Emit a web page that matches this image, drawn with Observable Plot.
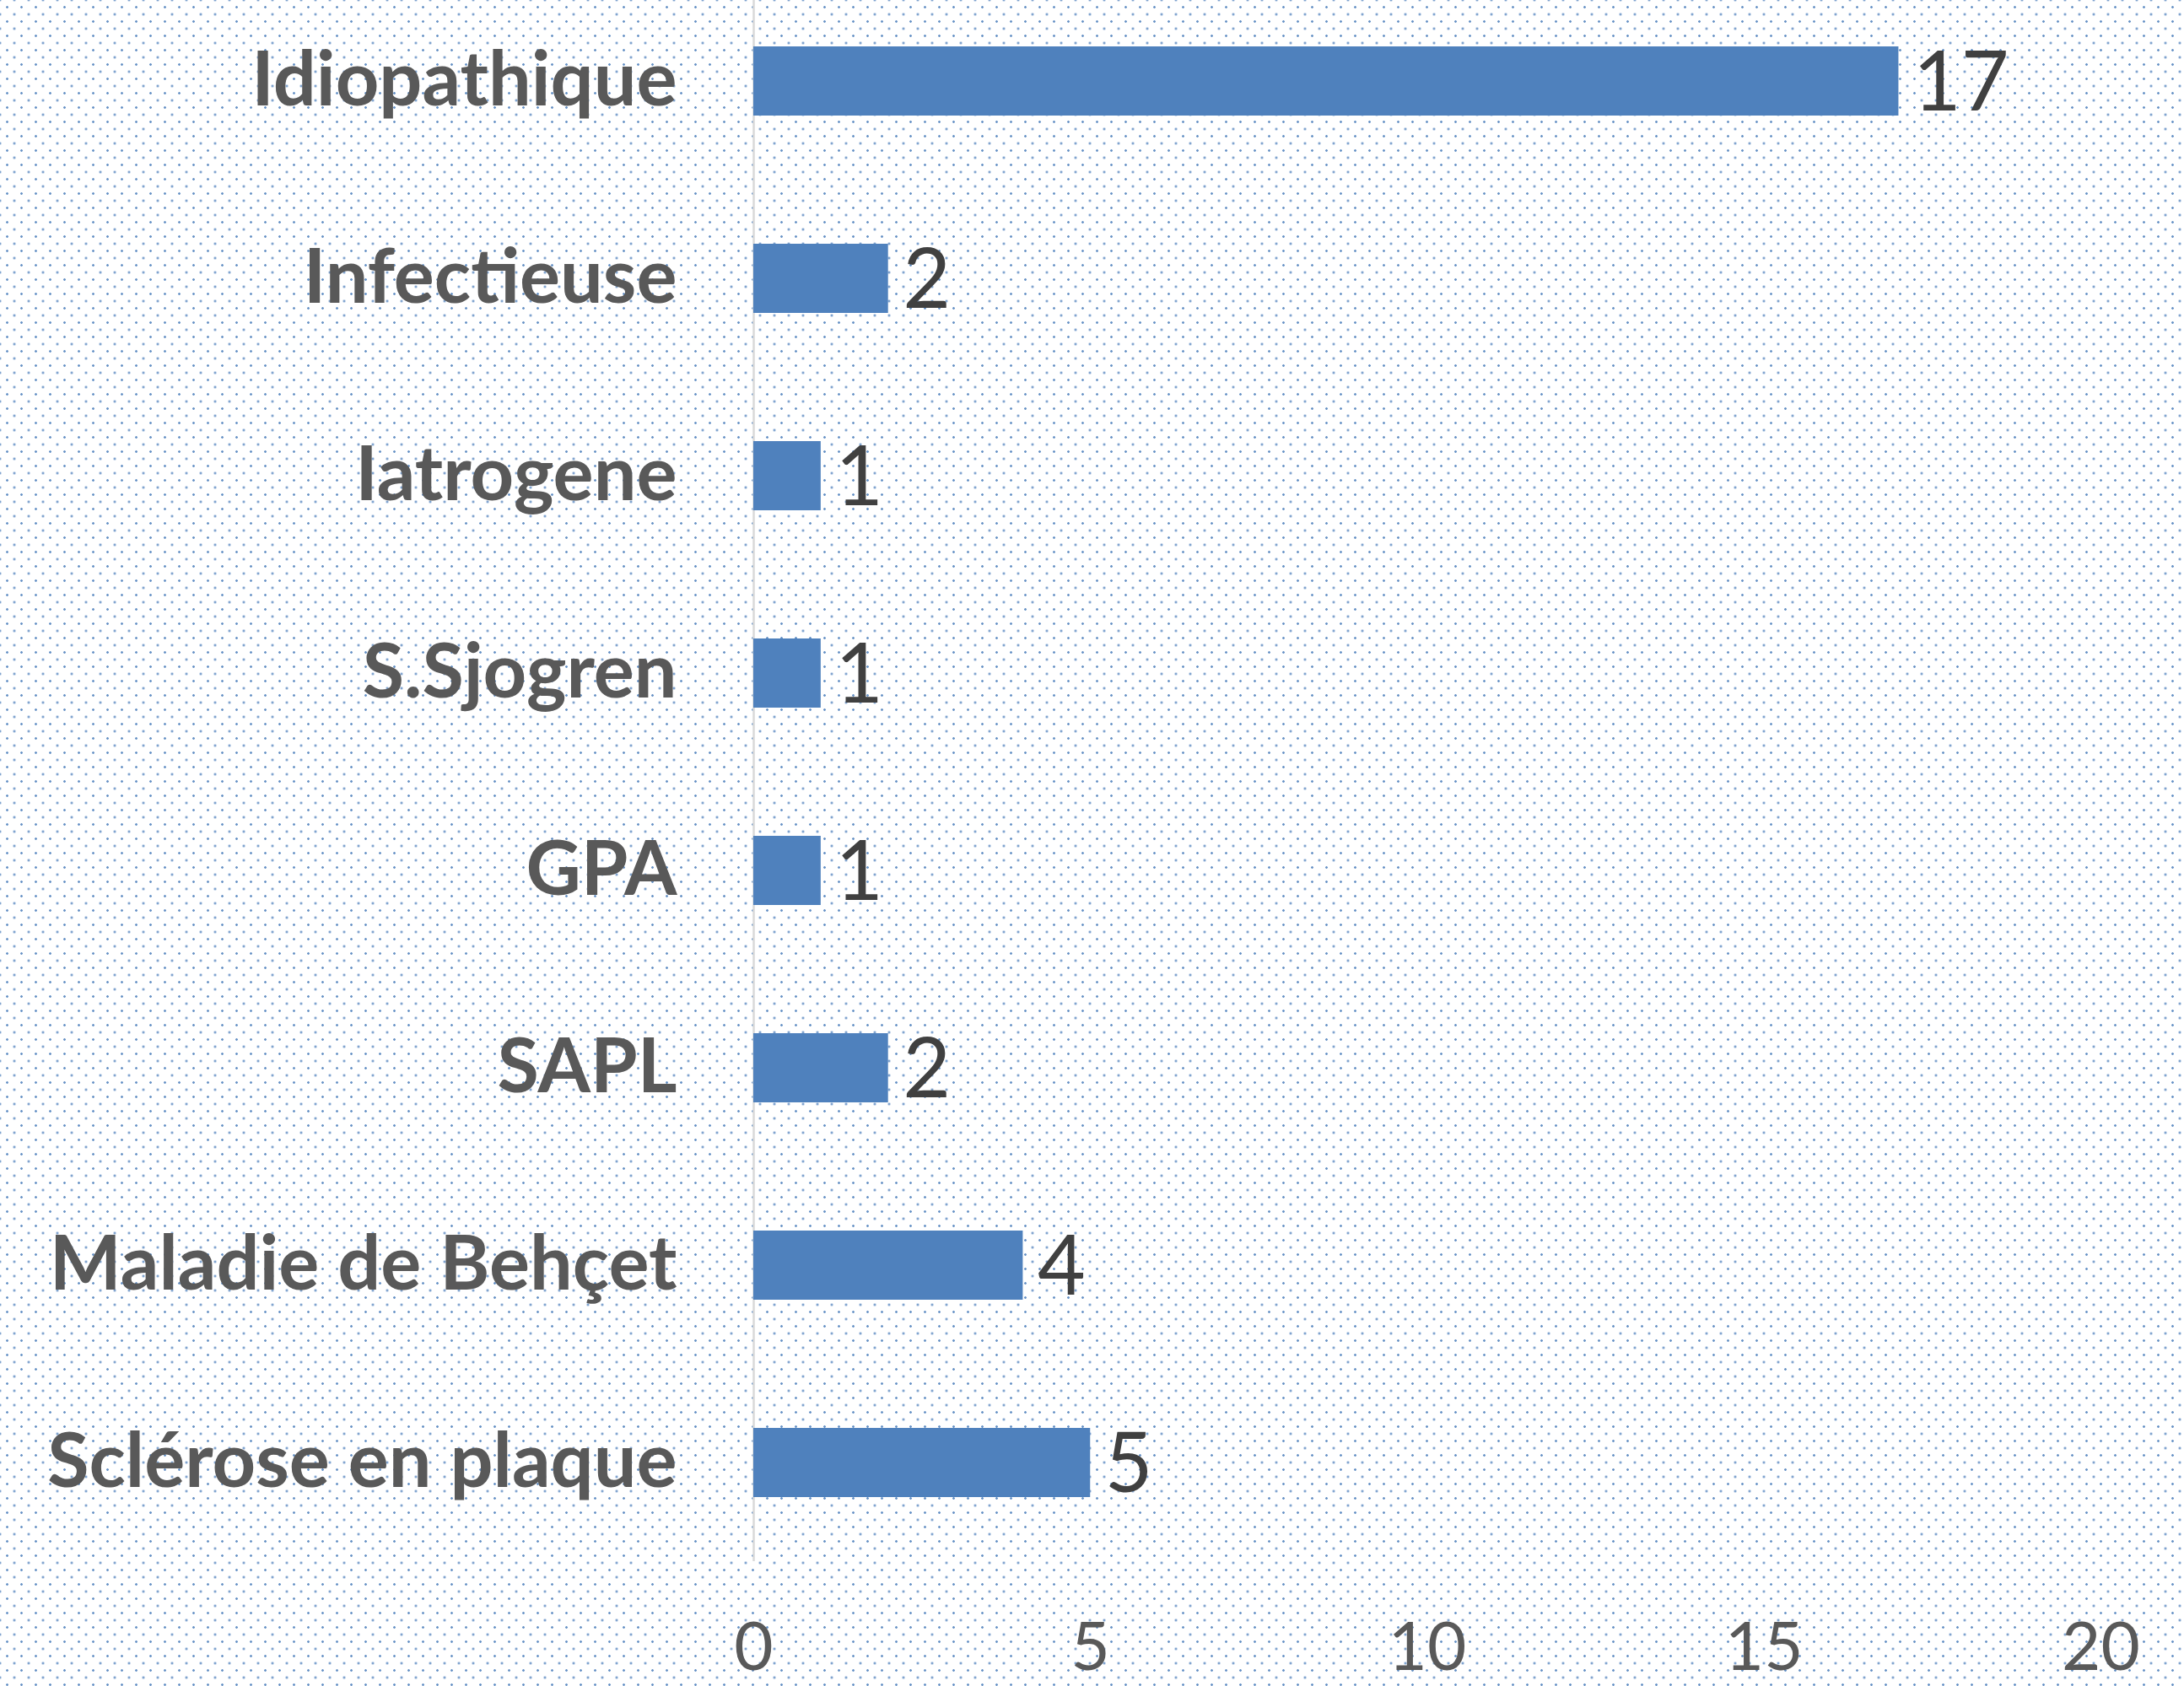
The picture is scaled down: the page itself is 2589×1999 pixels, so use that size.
<!DOCTYPE html>
<html>
<head>
<meta charset="utf-8">
<script src="https://cdn.jsdelivr.net/npm/d3@7"></script>
<script src="https://cdn.jsdelivr.net/npm/@observablehq/plot@0.6"></script>
<style>
  html, body { margin: 0; padding: 0; background: #ffffff; }
  #chart {
    width: 2589px; height: 1999px;
    background-color: #ffffff;
    background-image:
      radial-gradient(circle, rgba(79,129,189,0.85) 1.1px, rgba(79,129,189,0) 1.6px),
      radial-gradient(circle, rgba(79,129,189,0.85) 1.1px, rgba(79,129,189,0) 1.6px);
    background-size: 17px 17px, 17px 17px;
    background-position: 0 0, 8.5px 8.5px;
  }
  #chart svg { background: transparent; display: block; }
</style>
</head>
<body>
<div id="chart"></div>
<script>
const categories = ["Idiopathique", "Infectieuse", "Iatrogene", "S.Sjogren", "GPA", "SAPL", "Maladie de Behçet", "Sclérose en plaque"];
const values = [17, 2, 1, 1, 1, 2, 4, 5];
const xTicks = [0, 5, 10, 15, 20];

const data = categories.map((c, i) => ({category: c, value: values[i]}));

const chart = Plot.plot({
  width: 2589,
  height: 1999,
  marginLeft: 893,
  marginRight: 99,
  marginTop: 0,
  marginBottom: 168,
  style: {background: "transparent", fontFamily: "Lato, 'Open Sans', sans-serif"},
  x: {domain: [0, 20], ticks: xTicks},
  y: {domain: categories, paddingInner: 0.648, paddingOuter: 0.235},
  marks: [
    Plot.ruleX([0], {stroke: "#d9d9d9", strokeWidth: 2.5, insetBottom: -20}),
    Plot.barX(data, {x: "value", y: "category", fill: "#4f81bd"}),
    Plot.text(data, {x: "value", y: "category", text: d => String(d.value), dx: 17, textAnchor: "start", fontSize: 98, fill: "#404040", dy: 3}),
    Plot.axisX({ticks: xTicks, tickSize: 0, tickPadding: 92, fontSize: 80, fill: "#595959", label: null}),
    Plot.axisY({tickSize: 0, tickPadding: 91, fontSize: 90, fontWeight: "bold", fill: "#595959", label: null})
  ]
});
document.getElementById("chart").appendChild(chart);
</script>
</body>
</html>
